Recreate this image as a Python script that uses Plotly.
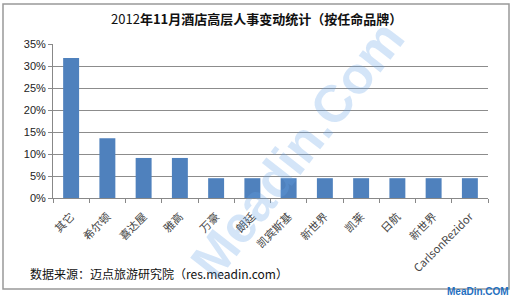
import plotly.graph_objects as go

categories = ["其它", "希尔顿", "喜达屋", "雅高", "万豪", "朗廷", "凯宾斯基", "新世界", "凯莱", "日航", "新世界\u200b", "CarlsonRezidor"]
values = [0.318, 0.136, 0.091, 0.091, 0.045, 0.045, 0.045, 0.045, 0.045, 0.045, 0.045, 0.045]

title_text = "2012<b>年11月酒店高层人事变动统计（按任命品牌）</b>"
source_text = "数据来源：迈点旅游研究院（res.meadin.com）"

W, H = 512, 297
L, R, T, B = 53, 488, 44, 198
pw, ph = R - L, B - T

def px(x):
    return (x - L) / pw

def py(y):
    return (B - y) / ph

cjk = "SimSun, 'Noto Sans CJK SC', sans-serif"

fig = go.Figure(go.Bar(
    x=categories, y=values,
    marker=dict(color="#4F81BD", line=dict(width=0)),
))

fig.update_layout(
    width=W, height=H,
    margin=dict(l=L, r=W - R, t=T, b=H - B),
    paper_bgcolor="white", plot_bgcolor="white",
    bargap=0.56,
    showlegend=False,
    font=dict(family=cjk, color="#222"),
    xaxis=dict(
        type="category", tickangle=-45, tickson="boundaries",
        ticks="outside", ticklen=4, tickcolor="#888",
        showline=True, linecolor="#888", showgrid=False,
        tickfont=dict(size=11, family=cjk, color="#444"),
        ticklabelstandoff=7,
        range=[-0.5, 11.5],
    ),
    yaxis=dict(
        range=[0, 0.35], dtick=0.05, tickformat=".0%",
        ticks="outside", ticklen=4, tickcolor="#888",
        showline=True, linecolor="#888",
        showgrid=True, gridcolor="#8c8c8c", gridwidth=1,
        tickfont=dict(size=11, family="Arial, sans-serif", color="#222"),
        zeroline=False,
    ),
    shapes=[dict(type="rect", xref="paper", yref="paper",
                 x0=px(3), x1=px(509), y0=py(289), y1=py(4),
                 line=dict(color="#999", width=1.5), layer="below")],
    annotations=[
        dict(text=title_text, xref="paper", yref="paper", x=px(256), y=py(19),
             xanchor="center", yanchor="middle", showarrow=False,
             font=dict(size=13, family=cjk, color="#111")),
        dict(text=source_text, xref="paper", yref="paper", x=px(28), y=py(273),
             xanchor="left", yanchor="middle", showarrow=False,
             font=dict(size=12, family=cjk, color="#111")),
        dict(text="<b>MeaDin.COM</b>", xref="paper", yref="paper", x=px(511), y=py(291),
             xanchor="right", yanchor="middle", showarrow=False,
             font=dict(size=10, family="Arial, sans-serif", color="#1F6FC0")),
        dict(text="<b>Meadin.Com</b>", xref="paper", yref="paper", x=px(297), y=py(150),
             xanchor="center", yanchor="middle", showarrow=False, textangle=-52,
             font=dict(size=52, family="Arial, sans-serif", color="rgba(100,160,230,0.28)")),
    ],
)

fig.write_html("out.html")
